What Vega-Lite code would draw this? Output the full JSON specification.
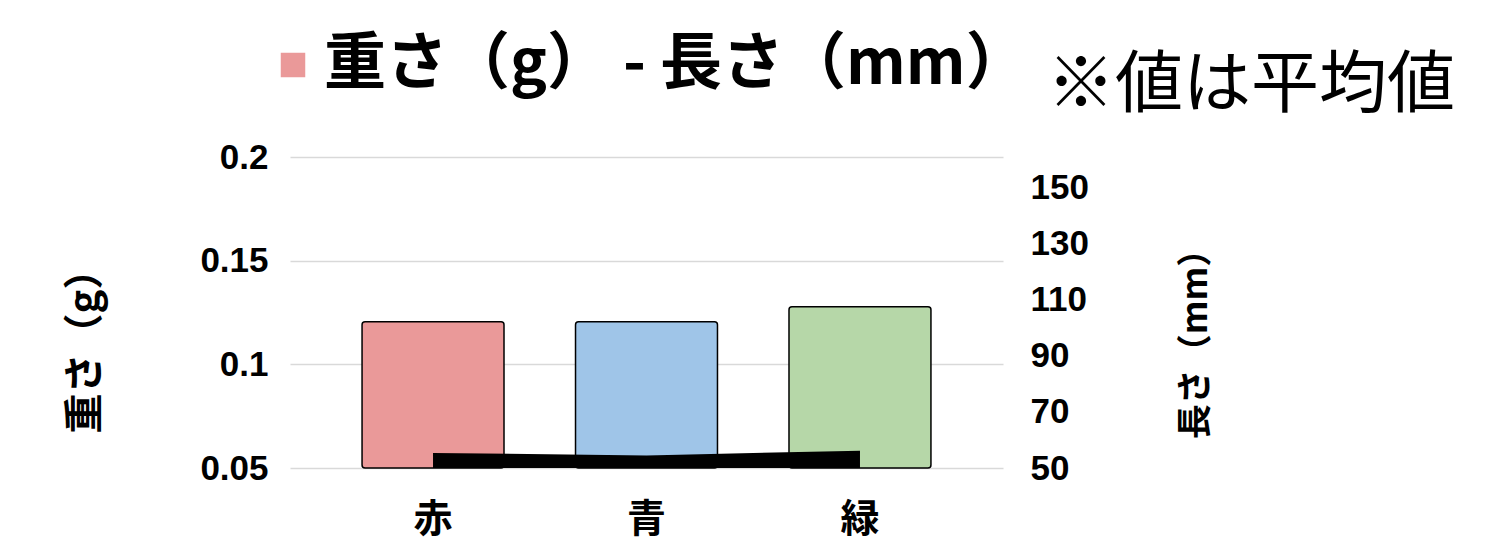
{
  "$schema": "https://vega.github.io/schema/vega-lite/v6.json",
  "autosize": "none",
  "width": 713,
  "height": 311,
  "padding": {"left": 290, "top": 157, "right": 502, "bottom": 81},
  "background": "white",
  "data": {
    "values": [
      {"色": "赤", "重さ": 0.1205, "長さ": 55.4},
      {"色": "青", "重さ": 0.1205, "長さ": 54.5},
      {"色": "緑", "重さ": 0.1278, "長さ": 56.2}
    ]
  },
  "title": {
    "text": "※値は平均値",
    "anchor": "end",
    "frame": "group",
    "orient": "top",
    "font": "Noto Sans CJK JP",
    "fontSize": 68,
    "fontWeight": "normal",
    "color": "#000000",
    "baseline": "alphabetic",
    "offset": 0,
    "dx": 452,
    "dy": 141
  },
  "config": {
    "view": {"stroke": null},
    "legend": {
      "labelFont": "Noto Sans CJK JP",
      "labelFontWeight": "bold"
    }
  },
  "encoding": {
    "x": {
      "field": "色",
      "type": "nominal",
      "sort": ["赤", "青", "緑"],
      "scale": {"paddingInner": 0.335, "paddingOuter": 0.3375},
      "axis": {
        "title": null,
        "labelAngle": 0,
        "labelFont": "Noto Sans CJK JP",
        "labelFontWeight": "bold",
        "labelFontSize": 39,
        "labelColor": "#000000",
        "labelPadding": 32,
        "labelBaseline": "top",
        "domain": false,
        "ticks": false
      }
    }
  },
  "layer": [
    {
      "mark": {"type": "bar", "stroke": "#000000", "strokeWidth": 1.5, "cornerRadius": 3},
      "encoding": {
        "y": {
          "field": "重さ",
          "type": "quantitative",
          "scale": {"domain": [0.05, 0.2], "zero": false, "nice": false},
          "axis": {
            "title": "重さ（g）",
            "titleFont": "Noto Sans CJK JP",
            "titleFontWeight": "bold",
            "titleFontSize": 40,
            "titleColor": "#000000",
            "titleAngle": 270,
            "titleX": -205,
            "titleY": 184,
            "titleAlign": "center",
            "titleBaseline": "middle",
            "values": [0.05, 0.1, 0.15, 0.2],
            "format": "~g",
            "labelFont": "Liberation Sans",
            "labelFontWeight": "bold",
            "labelFontSize": 35,
            "labelColor": "#000000",
            "labelPadding": 22,
            "domain": false,
            "ticks": false,
            "grid": true,
            "gridColor": "#d9d9d9",
            "gridWidth": 1.3
          }
        },
        "y2": {"datum": 0.05},
        "fill": {
          "field": "色",
          "type": "nominal",
          "scale": {"domain": ["赤", "青", "緑"], "range": ["#EA9999", "#9FC5E8", "#B6D7A8"]},
          "legend": null
        }
      }
    },
    {
      "mark": {"type": "area", "color": "#000000", "opacity": 1},
      "encoding": {
        "x": {"field": "色", "type": "nominal", "sort": ["赤", "青", "緑"], "bandPosition": 0.5},
        "y": {
          "field": "長さ",
          "type": "quantitative",
          "scale": {"domain": [50, 161.07], "zero": false, "nice": false},
          "axis": {
            "orient": "right",
            "title": "長さ（mm）",
            "titleFont": "Noto Sans CJK JP",
            "titleFontWeight": "bold",
            "titleFontSize": 35,
            "titleColor": "#000000",
            "titleAngle": 270,
            "titleX": 192,
            "titleY": 178,
            "titleAlign": "center",
            "titleBaseline": "middle",
            "values": [50, 70, 90, 110, 130, 150],
            "labelFont": "Liberation Sans",
            "labelFontWeight": "bold",
            "labelFontSize": 35,
            "labelColor": "#000000",
            "labelPadding": 27,
            "domain": false,
            "ticks": false,
            "grid": false
          }
        },
        "y2": {"datum": 50}
      }
    },
    {
      "mark": {"type": "point", "shape": "square", "filled": true, "opacity": 0},
      "encoding": {
        "color": {
          "datum": "重さ（g） - 長さ（mm）",
          "scale": {"range": ["#EA9999"]},
          "legend": {
            "title": null,
            "orient": "none",
            "legendX": -28,
            "legendY": -123,
            "padding": 0,
            "symbolType": "square",
            "symbolSize": 600,
            "symbolOpacity": 1,
            "symbolStrokeWidth": 0,
            "labelFontSize": 62,
            "labelColor": "#000000",
            "labelOffset": 0,
            "labelLimit": 2000,
            "labelBaseline": "middle"
          }
        }
      }
    }
  ],
  "resolve": {"scale": {"y": "independent"}}
}
